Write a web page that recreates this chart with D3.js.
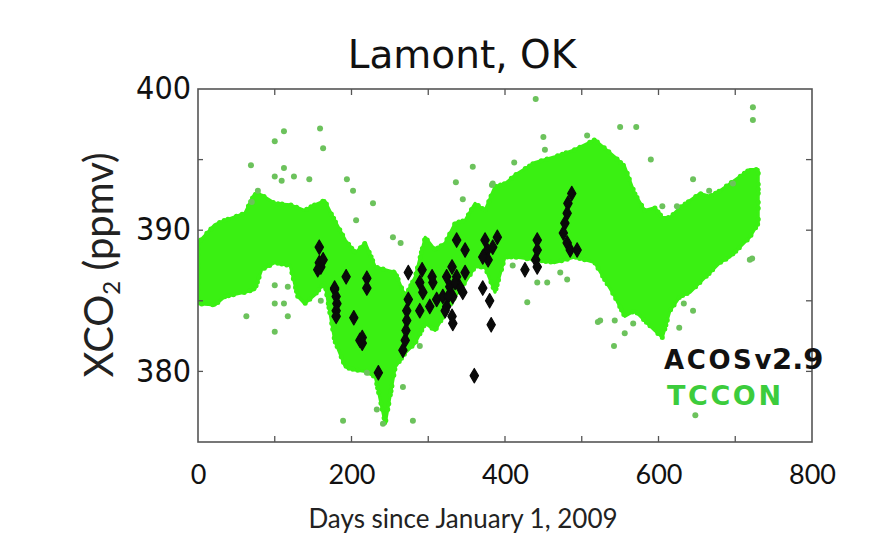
<!DOCTYPE html>
<html>
<head>
<meta charset="utf-8">
<script src="https://cdn.jsdelivr.net/npm/d3@7"></script>
<style>
  html, body { margin: 0; padding: 0; background: #fff; }
  svg { display: block; }
</style>
</head>
<body>
<svg id="chart" width="888" height="556"></svg>
<script>
// TCCON daily envelope at Lamont: day, lower and upper XCO2 (ppmv)
const tcconDay  = [0, 22, 35, 61, 74, 83, 100, 120, 130, 139, 152, 165, 178, 192, 205, 218, 231, 244, 257, 270, 283, 296, 309, 322, 335, 348, 361, 374, 387, 400, 413, 439, 465, 491, 517, 543, 556, 569, 582, 595, 605, 615, 628, 641, 654, 667, 680, 693, 706, 719, 730];
const tcconLow  = [384.8, 384.7, 385.3, 385.6, 385.8, 387.2, 387.7, 387.5, 385.3, 384.8, 385.4, 386.3, 382.2, 380.3, 380.1, 380.0, 379.6, 376.3, 380.3, 381.3, 382.0, 383.4, 382.9, 384.1, 385.3, 386.3, 387.4, 387.4, 385.6, 388.1, 388.1, 387.9, 387.7, 388.1, 387.7, 385.3, 383.9, 384.3, 383.6, 382.9, 382.4, 384.3, 385.3, 385.6, 386.3, 387.0, 387.7, 388.1, 388.8, 389.5, 390.5];
const tcconHigh = [389.1, 390.4, 390.7, 391.2, 392.6, 392.5, 391.9, 391.8, 391.6, 391.4, 391.8, 392.1, 390.7, 389.3, 388.4, 389.1, 387.4, 387.2, 387.0, 385.3, 386.7, 389.5, 388.6, 389.1, 390.5, 390.7, 391.9, 391.4, 393.1, 393.3, 393.9, 394.8, 395.2, 395.7, 396.4, 395.2, 394.5, 392.6, 391.4, 391.6, 390.9, 390.9, 391.6, 392.1, 392.6, 392.4, 392.8, 393.3, 393.8, 394.3, 394.3];

// TCCON soundings lying outside the main envelope
const tcconOutDay = [112, 100, 159, 163, 69, 112, 100, 109, 125, 145, 194, 202, 228, 206, 254, 264, 358, 336, 345, 78, 70, 383, 100, 117, 100, 112, 63, 117, 100, 160, 289, 267, 233, 189, 241, 280, 220, 440, 450, 452, 412, 550, 571, 507, 590, 645, 666, 605, 624, 723, 723, 697, 719, 384, 429, 521, 543, 556, 542, 567, 627, 645, 648, 472, 481, 410, 442, 455, 722, 524, 633];
const tcconOutVal = [397.0, 396.3, 397.2, 395.8, 394.6, 394.4, 393.8, 393.5, 393.8, 393.6, 393.6, 392.8, 391.9, 390.7, 389.5, 389.1, 394.5, 393.4, 392.2, 392.8, 392.0, 393.2, 386.1, 386.0, 384.8, 384.8, 383.9, 383.9, 382.8, 385.0, 381.8, 378.9, 377.3, 376.5, 376.3, 376.5, 379.9, 399.3, 396.6, 395.7, 394.8, 397.3, 397.3, 396.7, 395.0, 393.6, 392.8, 391.7, 391.7, 398.7, 397.8, 393.3, 387.9, 393.3, 384.9, 383.5, 383.6, 382.7, 381.8, 383.4, 383.1, 384.3, 376.9, 387.0, 386.5, 387.5, 386.3, 386.3, 388.0, 383.6, 384.8];

// ACOS v2.9 retrievals near Lamont
const acosDay = [158, 158, 160, 156, 163, 193, 178, 178, 180, 181, 180, 180, 203, 211, 220, 220, 214, 214, 235, 274, 274, 272, 272, 271, 270, 267, 289, 293, 302, 289, 306, 311, 292, 305, 324, 328, 332, 324, 331, 319, 337, 341, 345, 331, 335, 326, 322, 348, 332, 360, 371, 380, 382, 374, 377, 378, 384, 371, 337, 348, 390, 426, 442, 442, 440, 442, 487, 482, 481, 478, 476, 481, 485, 494];
const acosVal = [388.8, 387.7, 387.4, 387.2, 387.9, 386.7, 385.9, 385.8, 385.3, 384.8, 384.3, 383.9, 383.8, 382.2, 386.6, 385.9, 382.4, 382.0, 379.9, 387.0, 385.1, 384.3, 383.6, 382.9, 382.2, 381.5, 386.3, 385.6, 384.6, 384.3, 386.3, 385.1, 387.2, 386.7, 386.7, 386.0, 385.3, 384.6, 383.9, 385.3, 386.7, 386.0, 385.6, 387.4, 386.3, 385.3, 384.3, 387.0, 383.4, 379.7, 385.9, 385.0, 383.3, 389.3, 388.6, 387.9, 388.8, 388.1, 389.3, 388.6, 389.5, 387.2, 389.3, 388.6, 387.9, 387.4, 392.6, 391.9, 391.2, 390.5, 389.8, 389.1, 388.6, 388.6];

const xTicks = [0, 200, 400, 600, 800];
const yTicks = [380, 390, 400];

const svg = d3.select("#chart");
const margin = { left: 198, right: 76, top: 89, bottom: 114 };
const W = 888, H = 556;
const x = d3.scaleLinear().domain([0, 800]).range([margin.left, W - margin.right]);
const y = d3.scaleLinear().domain([375, 400]).range([H - margin.bottom, margin.top]);

const plot = svg.append("g");
svg.append("clipPath").attr("id", "plotclip")
  .append("rect").attr("x", x(0)).attr("y", y(400))
  .attr("width", x(800) - x(0)).attr("height", y(375) - y(400));

const layer = plot.append("g").attr("clip-path", "url(#plotclip)");
const green = "#3af012";

// dense TCCON band; an irregular beaded outline roughens its edge
const band = tcconDay.map((d, i) => ({ d, lo: tcconLow[i], hi: tcconHigh[i] }));
const area = d3.area().x(p => x(p.d)).y0(p => y(p.lo)).y1(p => y(p.hi)).curve(d3.curveLinear);
layer.append("path").datum(band)
  .attr("d", area)
  .attr("fill", green)
  .attr("stroke", green)
  .attr("stroke-width", 3)
  .attr("stroke-linejoin", "round");
layer.append("path").datum(band)
  .attr("d", area)
  .attr("fill", "none")
  .attr("stroke", green)
  .attr("stroke-width", 5)
  .attr("stroke-linecap", "round")
  .attr("stroke-dasharray", "0 4 0 9 0 6 0 11 0 5");

// scattered TCCON soundings
layer.append("g").selectAll("circle")
  .data(tcconOutDay.map((d, i) => ({ d, v: tcconOutVal[i] })))
  .join("circle")
  .attr("cx", p => x(p.d)).attr("cy", p => y(p.v)).attr("r", 3)
  .attr("fill", "#6cc25c");

// ACOS retrievals
layer.append("g").selectAll("path")
  .data(acosDay.map((d, i) => ({ d, v: acosVal[i] })))
  .join("path")
  .attr("transform", p => `translate(${x(p.d)},${y(p.v)})`)
  .attr("d", d3.symbol().type(d3.symbolDiamond).size(60))
  .attr("fill", "#0a0a0a")
  .attr("stroke", "#0a0a0a")
  .attr("stroke-width", 1.2)
  .attr("stroke-linejoin", "round");

// frame and inward ticks on all sides
const frameColor = "#555";
plot.append("rect")
  .attr("x", x(0)).attr("y", y(400))
  .attr("width", x(800) - x(0)).attr("height", y(375) - y(400))
  .attr("fill", "none").attr("stroke", frameColor).attr("stroke-width", 1.6);

const xMinor = d3.range(100, 800, 100);
const yMinor = d3.range(380, 400, 5);
const tk = plot.append("g").attr("stroke", frameColor).attr("stroke-width", 1.3);
xMinor.forEach(v => {
  tk.append("line").attr("x1", x(v)).attr("x2", x(v)).attr("y1", y(375)).attr("y2", y(375) - 6);
  tk.append("line").attr("x1", x(v)).attr("x2", x(v)).attr("y1", y(400)).attr("y2", y(400) + 6);
});
yMinor.forEach(v => {
  tk.append("line").attr("x1", x(0)).attr("x2", x(0) + 5).attr("y1", y(v)).attr("y2", y(v));
  tk.append("line").attr("x1", x(800)).attr("x2", x(800) - 6).attr("y1", y(v)).attr("y2", y(v));
});

// axis labels via d3 axes (lines hidden, text kept)
const xAxis = svg.append("g")
  .attr("transform", `translate(0,${y(375)})`)
  .call(d3.axisBottom(x).tickValues(xTicks).tickSize(0).tickPadding(18));
xAxis.select(".domain").remove();
xAxis.selectAll("text")
  .attr("font-family", "Lato, 'Open Sans', sans-serif")
  .attr("font-size", 27).attr("fill", "#111").attr("dy", "0.9em");

const yAxis = svg.append("g")
  .attr("transform", `translate(${x(0)},0)`)
  .call(d3.axisLeft(y).tickValues(yTicks).tickSize(0).tickPadding(7));
yAxis.select(".domain").remove();
yAxis.selectAll("text")
  .attr("font-family", "'DejaVu Sans Condensed', 'DejaVu Sans', sans-serif")
  .attr("font-stretch", "condensed")
  .attr("font-size", 32).attr("fill", "#111").attr("dy", "0.3em");

// titles
svg.append("text")
  .attr("x", 462).attr("y", 68)
  .attr("text-anchor", "middle")
  .attr("font-family", "'DejaVu Sans', sans-serif")
  .attr("font-size", 39).attr("fill", "#111")
  .text("Lamont, OK");

svg.append("text")
  .attr("x", 463).attr("y", 528)
  .attr("text-anchor", "middle")
  .attr("font-family", "Lato, 'Open Sans', sans-serif")
  .attr("font-size", 26).attr("fill", "#222")
  .text("Days since January 1, 2009");

const yl = svg.append("text")
  .attr("transform", "translate(113,265) rotate(-90)")
  .attr("text-anchor", "middle")
  .attr("font-family", "Lato, 'Open Sans', sans-serif")
  .attr("font-size", 40).attr("fill", "#222");
yl.append("tspan").text("XCO");
yl.append("tspan").attr("font-size", 24).attr("dy", 7).text("2");
yl.append("tspan").attr("dy", -7).text(" (ppmv)");

// legend
const lg = svg.append("text")
  .attr("x", 664).attr("y", 369)
  .attr("font-family", "'DejaVu Sans', sans-serif")
  .attr("font-weight", 700).attr("font-size", 26).attr("fill", "#111");
lg.append("tspan").attr("letter-spacing", 2.6).text("ACOSv");
lg.append("tspan").attr("font-size", 29).attr("letter-spacing", 0).attr("dx", -2).text("2.9");

svg.append("text")
  .attr("x", 667).attr("y", 405)
  .attr("font-family", "'DejaVu Sans', sans-serif")
  .attr("font-weight", 700).attr("font-size", 27).attr("fill", "#3ccc3c")
  .attr("letter-spacing", 2.6)
  .text("TCCON");
</script>
</body>
</html>
